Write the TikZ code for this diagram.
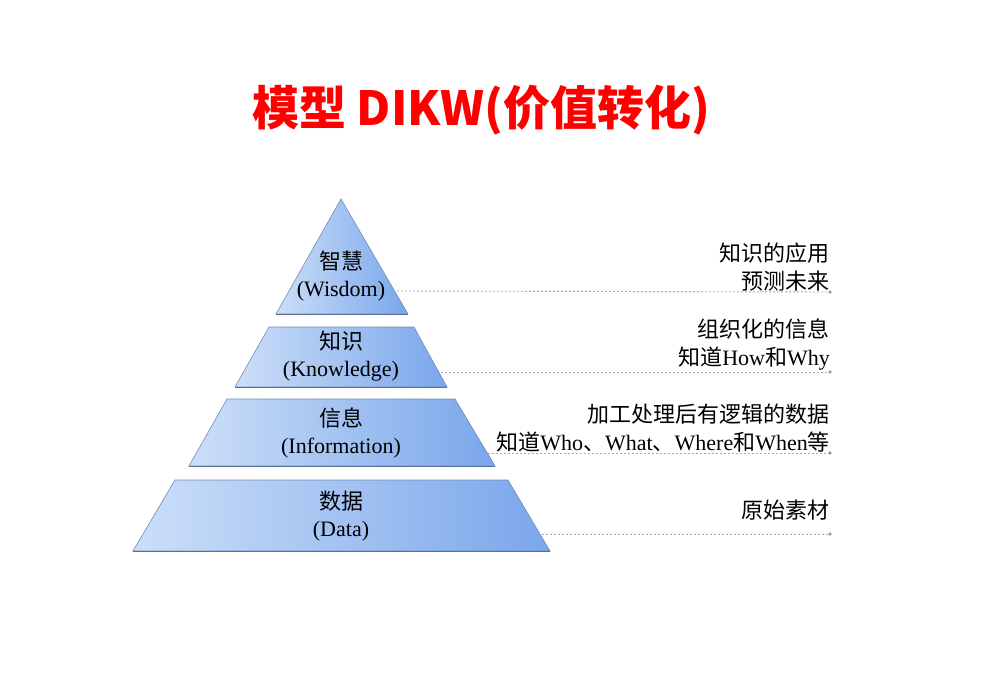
\documentclass[tikz,border=0pt]{standalone}
\usepackage{fontspec}
\setmainfont{Liberation Serif}
\newfontfamily\cjk{Noto Sans CJK SC}
\usetikzlibrary{calc}

\definecolor{layerlight}{HTML}{CCDFF8}
\definecolor{layerdark}{HTML}{7AA6EB}
\definecolor{layerline}{HTML}{6F8DB6}
\definecolor{guidegray}{HTML}{A8A8A8}

\begin{document}
\begin{tikzpicture}[x=1pt,y=-1pt]

\tikzset{
  layer/.style={
    left color=layerlight,
    right color=layerdark,
    draw=layerline,
    line width=0.6pt,
  },
  layer label/.style={
    align=center,
    inner sep=0pt,
    font=\fontsize{22}{27}\selectfont,
  },
  note/.style={
    anchor=east,
    align=right,
    inner sep=0pt,
    font=\fontsize{22}{28}\selectfont,
  },
  guide/.style={
    draw=guidegray,
    line width=0.9pt,
    dash pattern=on 2.2pt off 1.8pt,
  }
}

\useasboundingbox (0,0) rectangle (984,682);

% Title
\node (title) at (481,110)
  {\fontsize{47}{50}\selectfont\cjk\bfseries\color{red}模型 DIKW(价值转化)};

% Level 3 (top)
\shade[layer] (341,199) -- (408,314) -- (276,314) -- cycle;
\draw[layerline!80!black, line width=1pt] (276,314) -- (408,314);
\node[layer label] (wisdom) at (341,276) {{\cjk 智慧}\\(Wisdom)};

% Level 2
\shade[layer] (269,327) -- (414,327) -- (447,387) -- (235,387) -- cycle;
\draw[layerline!80!black, line width=1pt] (235,387) -- (447,387);
\node[layer label] (knowledge) at (341,356) {{\cjk 知识}\\(Knowledge)};

% Level 1
\shade[layer] (227,399) -- (455,399) -- (495,466) -- (189,466) -- cycle;
\draw[layerline!80!black, line width=1pt] (189,466) -- (495,466);
\node[layer label] (information) at (341,433) {{\cjk 信息}\\(Information)};

% Level 0
\shade[layer] (175,480) -- (508,480) -- (550,551) -- (133,551) -- cycle;
\draw[layerline!80!black, line width=1pt] (133,551) -- (550,551);
\node[layer label] (data) at (341,516) {{\cjk 数据}\\(Data)};

% Notes on the right
\node[note] (wnote) at (830,267) {\cjk 知识的应用\\\cjk 预测未来};
\node[note] (knote) at (830,345) {\cjk 组织化的信息\\{\cjk 知道}How{\cjk 和}Why};
\node[note] (inote) at (830,428)
  {\cjk 加工处理后有逻辑的数据\\{\cjk 知道}Who{\cjk 、}What{\cjk 、}Where{\cjk 和}When{\cjk 等}};
\node[note] (dnote) at (830,510) {\cjk 原始素材};

% Guide lines
\coordinate (wl) at (397,291);
\coordinate (wr) at (830,292);
\coordinate (kl) at (441,372);
\coordinate (kr) at (830,372);
\coordinate (il) at (488,453);
\coordinate (ir) at (830,453);
\coordinate (dl) at (542,534);
\coordinate (dr) at (830,534);

\draw[guide] (wl) -- (wr);
\draw[guide] (kl) -- (kr);
\draw[guide] (il) -- (ir);
\draw[guide] (dl) -- (dr);

\foreach \p in {wr,kr,ir,dr}
  \fill[gray!75] (\p) circle (1.8);

\end{tikzpicture}
\end{document}
